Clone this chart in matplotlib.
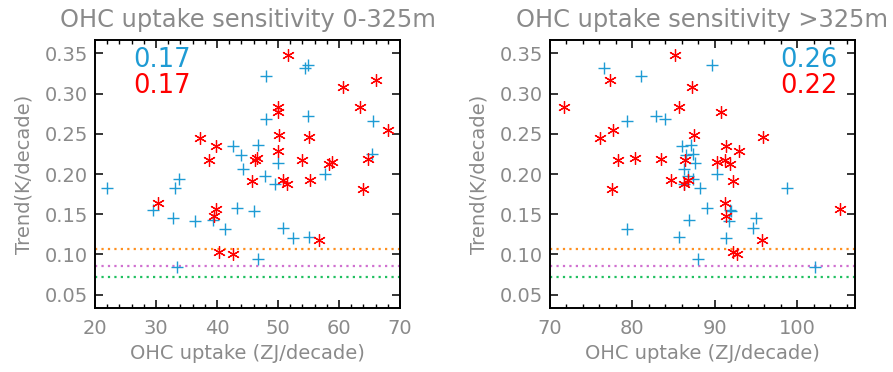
import numpy as np
import matplotlib
matplotlib.use('Agg')
import matplotlib.pyplot as plt
from matplotlib.ticker import MultipleLocator, FormatStrFormatter

# trend per model (K/decade), shared by both panels
trend_blue = [0.336, 0.332, 0.322, 0.272, 0.269, 0.266, 0.236, 0.235, 0.225, 0.224,
              0.214, 0.206, 0.200, 0.198, 0.194, 0.188, 0.183, 0.183, 0.158, 0.155,
              0.154, 0.145, 0.143, 0.142, 0.133, 0.131, 0.122, 0.120, 0.094, 0.084]
ohc_shallow_blue = [55.0, 54.4, 48.0, 54.9, 48.0, 65.5, 46.8, 42.6, 65.4, 43.9,
                    50.0, 44.3, 57.7, 47.9, 33.8, 49.5, 21.9, 33.1, 43.2, 29.5,
                    46.0, 32.8, 39.4, 36.4, 50.8, 41.3, 55.1, 52.4, 46.8, 33.4]
ohc_deep_blue = [89.6, 76.5, 81.1, 82.9, 83.9, 79.4, 87.1, 86.0, 87.3, 86.5,
                 87.6, 86.2, 90.3, 86.7, 87.4, 86.2, 98.8, 88.2, 89.0, 91.8,
                 92.0, 95.0, 86.9, 91.7, 94.6, 79.4, 85.7, 91.3, 87.9, 102.2]

trend_red = [0.348, 0.317, 0.308, 0.283, 0.283, 0.277, 0.255, 0.248, 0.246, 0.245,
             0.235, 0.228, 0.220, 0.219, 0.218, 0.218, 0.217, 0.215, 0.213, 0.193,
             0.193, 0.191, 0.187, 0.181, 0.164, 0.156, 0.148, 0.118, 0.103, 0.100]
ohc_shallow_red = [51.7, 66.1, 60.6, 63.4, 50.0, 50.0, 68.1, 50.2, 55.1, 37.2,
                   39.8, 50.0, 46.5, 64.8, 38.7, 53.9, 46.2, 58.9, 58.3, 50.9,
                   55.2, 45.7, 51.5, 64.0, 30.3, 39.9, 39.5, 56.8, 40.4, 42.7]
ohc_deep_red = [85.2, 77.3, 87.2, 71.7, 85.7, 90.7, 77.7, 87.5, 95.9, 76.1,
                91.3, 92.9, 80.3, 83.5, 78.3, 91.2, 86.4, 90.3, 91.8, 84.7,
                86.8, 92.2, 86.2, 77.5, 91.2, 105.2, 91.4, 95.7, 92.2, 92.7]

# correlation labels and reference trend levels
corr_shallow = ['0.17', '0.17']
corr_deep = ['0.26', '0.22']
ref_levels = [0.1065, 0.085, 0.072]
ref_colors = ['#ff9020', '#d070d0', '#20c060']

BLUE = '#1e9bd4'
RED = '#ff0000'
GREY = '#8a8a8a'


def scatter_panel(ax, x_blue, x_red, xlim, title, corr, corr_x, corr_ha):
    for level, col in zip(ref_levels, ref_colors):
        ax.axhline(level, color=col, lw=1.6, ls=(0, (1, 1.9)), zorder=1)
    ax.plot(x_blue, trend_blue, ls='none', marker='+', ms=9, mew=1.0,
            color=BLUE, zorder=3)
    ax.plot(x_red, trend_red, ls='none', marker=(6, 2, 0), ms=9, mew=0.9,
            color=RED, zorder=3)

    ax.set_xlim(*xlim)
    ax.set_ylim(0.0333, 0.3667)
    ax.xaxis.set_major_locator(MultipleLocator(10))
    ax.xaxis.set_minor_locator(MultipleLocator(2))
    ax.yaxis.set_major_locator(MultipleLocator(0.05))
    ax.yaxis.set_major_formatter(FormatStrFormatter('%.2f'))
    ax.tick_params(which='both', direction='in', top=True, right=True,
                   colors='black', labelcolor=GREY, labelsize=14)
    ax.tick_params(which='major', length=6, width=1.1)
    ax.tick_params(which='minor', length=3, width=1.0)
    ax.tick_params(axis='x', pad=8)
    ax.tick_params(axis='y', pad=5)
    for sp in ax.spines.values():
        sp.set_linewidth(1.4)

    ax.set_title(title, fontsize=17.4, color=GREY, pad=9)
    ax.set_xlabel('OHC uptake (ZJ/decade)', fontsize=14, color=GREY, labelpad=4)
    ax.set_ylabel('Trend(K/decade)', fontsize=14, color=GREY, labelpad=8)

    ax.text(corr_x, 0.899, corr[0], transform=ax.transAxes, ha=corr_ha,
            va='baseline', fontsize=18.5, color=BLUE)
    ax.text(corr_x, 0.802, corr[1], transform=ax.transAxes, ha=corr_ha,
            va='baseline', fontsize=18.5, color=RED)


fig = plt.figure(figsize=(8.93, 3.72), dpi=100)
ax1 = fig.add_axes([0.1064, 0.172, 0.3415, 0.7205])
ax2 = fig.add_axes([0.6159, 0.172, 0.3415, 0.7205])

scatter_panel(ax1, ohc_shallow_blue, ohc_shallow_red, (20, 70),
              'OHC uptake sensitivity 0-325m', corr_shallow, 0.125, 'left')
scatter_panel(ax2, ohc_deep_blue, ohc_deep_red, (70, 107),
              'OHC uptake sensitivity >325m', corr_deep, 0.944, 'right')

fig.savefig('out.png', dpi=100)
